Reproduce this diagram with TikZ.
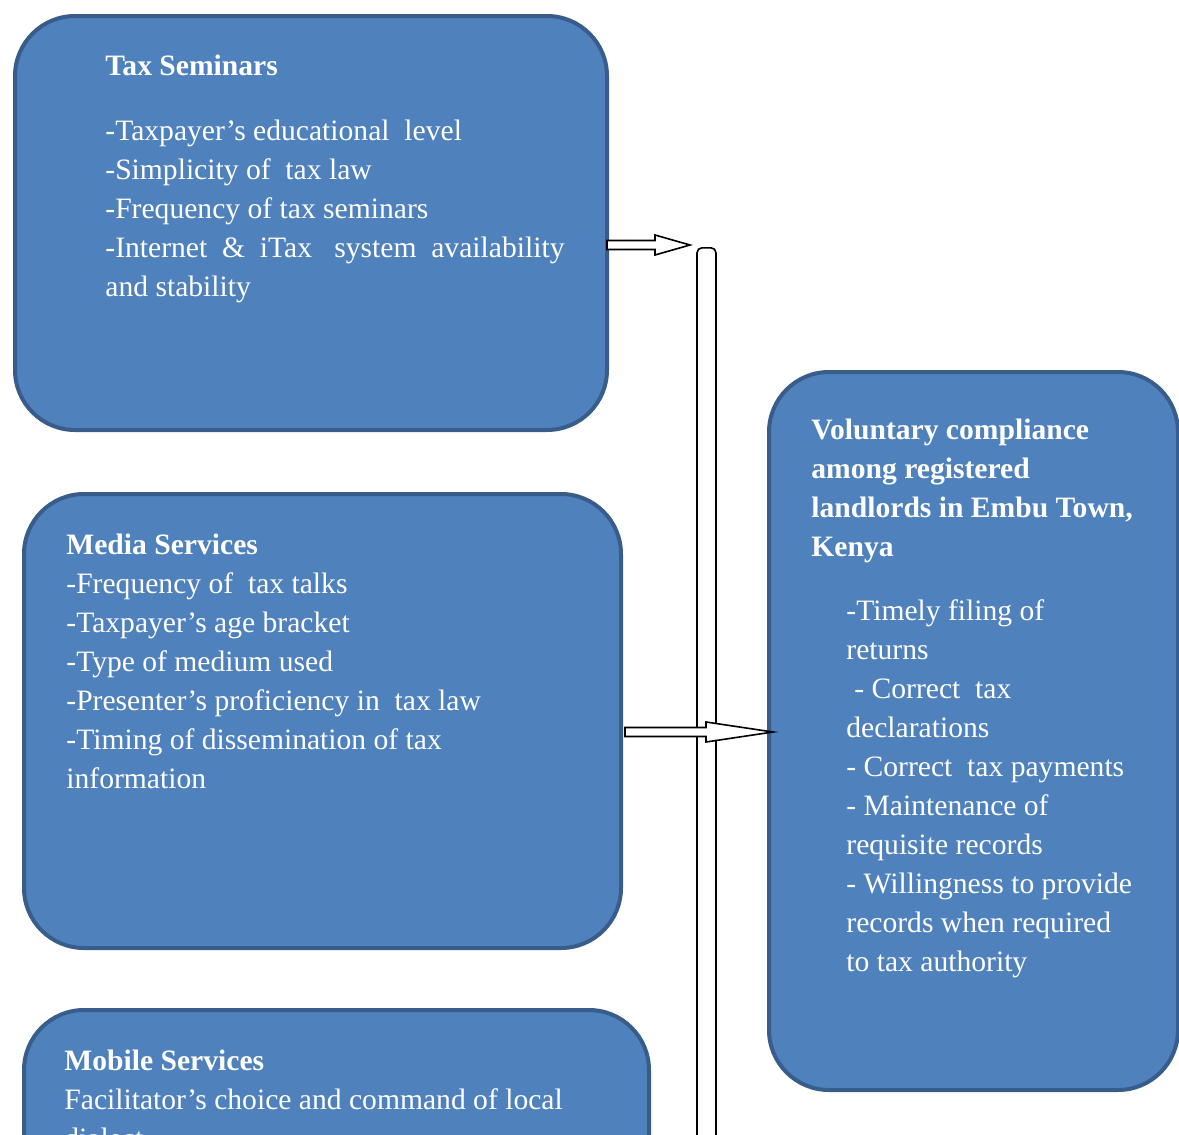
\documentclass[tikz,border=0pt]{standalone}
\usepackage{fontspec}
\setmainfont{Liberation Serif}
\usetikzlibrary{calc}
\definecolor{boxfill}{HTML}{4F81BD}
\definecolor{boxline}{HTML}{385D8A}
\tikzstyle{factor}=[
	rectangle,
	rounded corners=30,
	line width=2pt,
	draw=boxline,
	fill=boxfill,
	anchor=north west,
	inner sep=0pt
]
% anchored at the baseline of the last line
\tikzstyle{boxtext}=[
	anchor=base west,
	align=left,
	inner sep=0pt,
	text=white,
	font=\fontsize{14.8}{19.5}\selectfont
]
\tikzstyle{blockarrow}=[
	draw=black,
	fill=white,
	line width=0.8pt,
	line join=miter
]
% horizontal block arrow: start, tip, head length
\newcommand{\blockarrow}[3]{%
	\draw[blockarrow] ($(#1)+(0,4.5)$) -- ($(#2)+(-#3,4.5)$) -- ($(#2)+(-#3,10)$)
		-- (#2) -- ($(#2)+(-#3,-10)$) -- ($(#2)+(-#3,-4.5)$) -- ($(#1)+(0,-4.5)$) -- cycle;}

\begin{document}
\begin{tikzpicture}[x=0.5pt,y=-0.5pt]
\clip (0,0) rectangle (1179,1135);

% the three factors and the outcome
\node [factor, minimum width=296pt, minimum height=207pt] (seminars) at (13,14) {};
\node [factor, minimum width=298.5pt, minimum height=227pt] (media) at (22,492) {};
\node [factor, minimum width=312.5pt, minimum height=227pt] (mobile) at (22,1008) {};
\node [factor, minimum width=204.5pt, minimum height=359pt] (compliance) at (767,370) {};

\node [boxtext] (seminars-text) at (105,296) {\textbf{Tax Seminars}\\[13pt]
	-Taxpayer’s educational\ \ level\\
	-Simplicity of\ \ tax law\\
	-Frequency of tax seminars\\
	-Internet\ \ \&\ \ iTax\ \ \ system\ \ availability\\
	and stability};
\node [boxtext] (media-text) at (66,788) {\textbf{Media Services}\\
	-Frequency of\ \ tax talks\\
	-Taxpayer’s age bracket\\
	-Type of medium used\\
	-Presenter’s proficiency in\ \ tax law\\
	-Timing of dissemination of tax\\
	information};
\node [boxtext] (mobile-text) at (64,1148) {\textbf{Mobile Services}\\
	Facilitator’s choice and command of local\\
	dialect};
\node [boxtext] (compliance-title) at (811,556) {\textbf{Voluntary compliance}\\
	\textbf{among registered}\\
	\textbf{landlords in Embu Town,}\\
	\textbf{Kenya}};
\node [boxtext] (compliance-text) at (846,971) {-Timely filing of\\
	returns\\
	\hspace{4pt}- Correct\ \ tax\\
	declarations\\
	- Correct\ \ tax payments\\
	- Maintenance of\\
	requisite records\\
	- Willingness to provide\\
	records when required\\
	to tax authority};

% collecting bar
\node [draw, fill=white, line width=0.8pt, rounded corners=2.5pt, anchor=north,
	minimum width=9.5pt, minimum height=460pt, inner sep=0pt] (bus) at (706.5,247) {};

% block arrows
\coordinate (seminars-out) at (607,245);
\coordinate (seminars-tip) at (690,245);
\coordinate (media-out) at (625,732);
\coordinate (compliance-in) at (773,732);
\blockarrow{seminars-out}{seminars-tip}{35}
\blockarrow{media-out}{compliance-in}{67}
\end{tikzpicture}
\end{document}
